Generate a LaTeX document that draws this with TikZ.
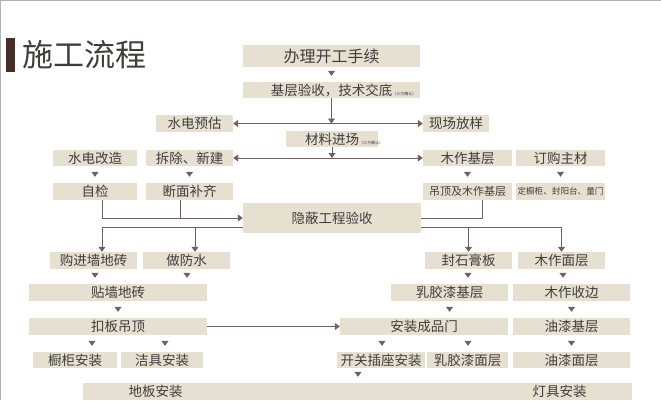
\documentclass[tikz,border=0pt]{standalone}
\usepackage{fontspec}
\newfontfamily\cjk{Noto Sans CJK SC}
\usetikzlibrary{arrows.meta, positioning}

\definecolor{boxfill}{RGB}{229,224,207}
\definecolor{linec}{RGB}{112,96,98}
\definecolor{textc}{RGB}{66,61,61}
\definecolor{titlebar}{RGB}{72,46,42}
\newcommand\sfqr{\rlap{\fontsize{4}{4}\selectfont （三方确认）}}

\begin{document}
\begin{tikzpicture}[x=1pt, y=-1pt, >={Triangle[width=7pt,length=5pt]}, font=\cjk]
  \tikzset{
    box/.style={
      fill=boxfill,
      text=textc,
      inner sep=0pt,
      minimum height=17pt,
      font=\cjk\fontsize{13.5}{14}\selectfont},
    wire/.style={
      draw=linec,
      line width=1pt},
    tri/.style={
      wire, ->,
      shorten <=6pt,
      shorten >=6pt}}

  \useasboundingbox (0,0) rectangle (661,400);
  \draw[gray!60, line width=1.5pt] (0,400) -- (0,0) -- (661,0);

  \fill[titlebar] (6,38) rectangle (15,72);
  \node[anchor=west, inner sep=0pt, text=textc, font=\cjk\fontsize{31}{32}\selectfont] (title) at (22,55) {施工流程};

  \node[box, minimum width=177pt, minimum height=22pt, font=\cjk\fontsize{16}{17}\selectfont] (kaigong) at (331.5,56) {办理开工手续};
  \node[box, minimum width=177pt, minimum height=16pt] (jiaodi) at (331.5,90) {基层验收，技术交底\sfqr};
  \node[box, minimum width=77pt] (yugu) at (194.5,123.5) {水电预估};
  \node[box, minimum width=66pt] (fangyang) at (456,123.5) {现场放样};
  \node[box, minimum width=92pt, minimum height=16pt] (cailiao) at (332,139) {材料进场\sfqr};

  \node[box, minimum width=84pt, minimum height=16pt] (gaizao) at (95,158) {水电改造};
  \node[box, minimum width=87pt, minimum height=16pt] (chaichu) at (189.5,158) {拆除、新建};
  \node[box, minimum width=89pt, minimum height=16pt] (mujiao) at (467.5,158) {木作基层};
  \node[box, minimum width=89pt, minimum height=16pt] (dinggou) at (560.5,158) {订购主材};

  \node[box, minimum width=84pt] (zijian) at (95,191.5) {自检};
  \node[box, minimum width=87pt] (duanmian) at (189.5,191.5) {断面补齐};
  \node[box, minimum width=89pt, font=\cjk\fontsize{11}{12}\selectfont] (diaoding) at (467.5,191.5) {吊顶及木作基层};
  \node[box, minimum width=89pt, font=\cjk\fontsize{8.6}{9}\selectfont] (dingzhi) at (560.5,191.5) {定橱柜、封阳台、量门};

  \node[box, minimum width=178pt, minimum height=30pt] (yinbi) at (332,218) {隐蔽工程验收};
  \coordinate (outL) at ([yshift=-9pt]yinbi.west);
  \coordinate (outR) at ([yshift=-9pt]yinbi.east);

  \node[box, minimum width=87pt] (goujin) at (93.5,260.5) {购进墙地砖};
  \node[box, minimum width=87pt] (fangshui) at (186.5,260.5) {做防水};
  \node[box, minimum width=87pt] (fengshi) at (468.5,260.5) {封石膏板};
  \node[box, minimum width=87pt] (mianceng) at (561.5,260.5) {木作面层};

  \node[box, minimum width=178pt] (tiezhuan) at (118,292.5) {贴墙地砖};
  \node[box, minimum width=117pt] (rujiao) at (449.5,292.5) {乳胶漆基层};
  \node[box, minimum width=117pt] (shoubian) at (571.5,292.5) {木作收边};

  \node[box, minimum width=178pt] (kouban) at (118,326.5) {扣板吊顶};
  \node[box, minimum width=168pt] (chengpinmen) at (424,326.5) {安装成品门};
  \node[box, minimum width=117pt] (youqiji) at (571.5,326.5) {油漆基层};

  \node[box, minimum width=84pt, minimum height=16pt] (chugui) at (75,360) {橱柜安装};
  \node[box, minimum width=82pt, minimum height=16pt] (jieju) at (162,360) {洁具安装};
  \node[box, minimum width=88pt, minimum height=16pt] (kaiguan) at (381,360) {开关插座安装};
  \node[box, minimum width=81pt, minimum height=16pt] (rujiaomian) at (467.5,360) {乳胶漆面层};
  \node[box, minimum width=117pt, minimum height=16pt] (youqimian) at (571.5,360) {油漆面层};

  \node[box, minimum width=549pt] (floor) at (357.5,391.5) {\makebox[458pt]{地板安装\hfill 灯具安装}};

  \draw[tri] (kaigong) -- (jiaodi);
  \draw[wire, ->] (jiaodi) -- (jiaodi |- yugu);
  \draw[wire, <->] (yugu) -- (fangyang);
  \draw[wire, ->] (cailiao) -- (cailiao |- chaichu);
  \draw[wire, <->] (chaichu) -- (mujiao);

  \draw[tri] (gaizao) -- (zijian);
  \draw[tri] (chaichu) -- (duanmian);
  \draw[tri] (mujiao) -- (diaoding);
  \draw[tri] (dinggou) -- (dingzhi);

  \draw[wire, ->] (zijian.south -| 102,0) |- (yinbi);
  \draw[wire] (duanmian.south -| 180,0) -- (yinbi.west -| 180,0);
  \draw[wire] (diaoding.south -| 482,0) |- (yinbi);

  \draw[wire, ->] (outL) -| (goujin.north -| 102,0);
  \draw[wire, ->] (outL -| 195,0) -- (fangshui.north -| 195,0);
  \draw[wire, ->] (outR) -| (mianceng);
  \draw[wire, ->] (outR -| fengshi) -- (fengshi);

  \draw[tri] (goujin.south -| 95,0) -- (tiezhuan.north -| 95,0);
  \draw[tri] (fangshui.south -| 187,0) -- (tiezhuan.north -| 187,0);
  \draw[tri] (fengshi.south -| 468,0) -- (rujiao.north -| 468,0);
  \draw[tri] (mianceng.south -| 563,0) -- (shoubian.north -| 563,0);

  \draw[tri] (tiezhuan) -- (kouban);
  \draw[tri] (rujiao) -- (chengpinmen.north -| rujiao);
  \draw[tri] (shoubian) -- (youqiji);
  \draw[wire, ->] (kouban) -- (chengpinmen);

  \draw[tri] (kouban.south -| 92,0) -- (chugui.north -| 92,0);
  \draw[tri] (kouban.south -| 165,0) -- (jieju.north -| 165,0);
  \draw[tri] (chengpinmen.south -| 382,0) -- (kaiguan.north -| 382,0);
  \draw[tri] (chengpinmen.south -| 468,0) -- (rujiaomian.north -| 468,0);
  \draw[tri] (youqiji) -- (youqimian);
  \draw[tri] (kaiguan.south -| 358,0) -- (floor.north -| 358,0);

\end{tikzpicture}
\end{document}
